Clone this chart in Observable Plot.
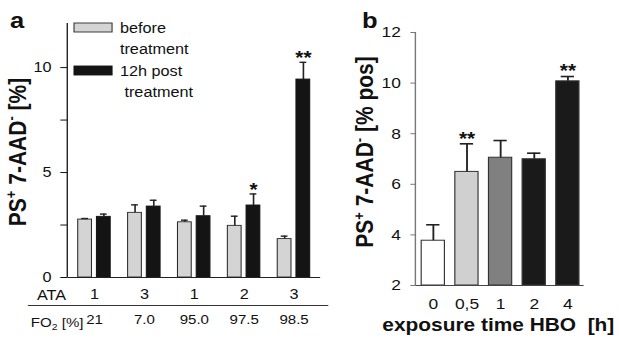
<!DOCTYPE html>
<html><head><meta charset="utf-8">
<script src="https://cdn.jsdelivr.net/npm/d3@7"></script>
<script src="https://cdn.jsdelivr.net/npm/@observablehq/plot@0.6"></script>
<style>
body{margin:0;background:#fff;}
#wrap{position:relative;width:619px;height:339px;overflow:hidden;background:#fff;}
#wrap svg{position:absolute;top:0;}
</style></head><body><div id="wrap"></div>
<script>
// ---- Panel a data ----
const ata = ["1", "3", "1", "2", "3"];
const fo2 = ["21", "7.0", "95.0", "97.5", "98.5"];
const before = [2.76, 3.08, 2.63, 2.46, 1.83];
const beforeErr = [0.05, 0.38, 0.10, 0.46, 0.14];
const after = [2.89, 3.38, 2.92, 3.43, 9.43];
const afterErr = [0.13, 0.30, 0.48, 0.55, 0.82];
const afterSig = ["", "", "", "*", "**"];
const yTicksA = [0, 2.5, 5, 7.5, 10];
const yMaxA = 12.1;
const legendA = [["before", "treatment"], ["12h post", " treatment"]];

// ---- Panel b data ----
const hours = ["0", "0,5", "1", "2", "4"];
const pos = [3.77, 6.49, 7.05, 6.99, 10.07];
const posErr = [0.63, 1.11, 0.68, 0.24, 0.19];
const posSig = ["", "**", "", "", "**"];
const hourColors = ["#ffffff", "#d0d0d0", "#808080", "#1a1a1a", "#1a1a1a"];
const yTicksB = [2, 4, 6, 8, 10, 12];
const yDomainB = [2, 12];

const S = 1.16; // horizontal stretch of the original figure
const FONT = '"Liberation Sans", Arial, Helvetica, sans-serif';
const wrap = document.getElementById("wrap");

function stretch(svg, left) {
  const w = +svg.getAttribute("width"), h = +svg.getAttribute("height");
  svg.setAttribute("viewBox", `0 0 ${w} ${h}`);
  svg.setAttribute("width", w * S);
  svg.setAttribute("preserveAspectRatio", "none");
  svg.style.width = (w * S) + "px";
  svg.style.height = h + "px";
  svg.style.maxWidth = "none";
  svg.style.left = left + "px";
  svg.style.background = "transparent";
}

// ================= Panel a =================
const WA = 290, HA = 339, mLA = 58, mRA = 14, mTA = 23, mBA = 62, padA = 0.35;
const bwA = (WA - mLA - mRA) / 5 * (1 - padA);
const barWA = 12.2, capA = 6.2;
const insA = bwA - barWA, dA = insA / 2, capInsA = (bwA - capA) / 2;

const rowsA = ata.map((a, i) => ({
  i, fo2: fo2[i],
  before: before[i], beforeTop: before[i] + beforeErr[i],
  after: after[i], afterTop: after[i] + afterErr[i],
  sig: afterSig[i]
}));

const svgA = Plot.plot({
  width: WA, height: HA,
  marginLeft: mLA, marginRight: mRA, marginTop: mTA, marginBottom: mBA,
  style: {fontSize: "14px", fontFamily: FONT, color: "#111", background: "transparent"},
  x: {type: "band", domain: d3.range(ata.length), paddingInner: padA, paddingOuter: padA / 2,
      tickSize: 0, tickPadding: 12, tickFormat: i => ata[i], label: null},
  y: {domain: [0, yMaxA], ticks: yTicksA, tickFormat: d => d % 5 === 0 ? d : "",
      tickSize: 6, tickPadding: 8, label: null},
  marks: [
    Plot.barY(rowsA, {x: "i", y: "before", fill: "#d4d4d4", stroke: "#2a2a2a", strokeWidth: 0.9, insetRight: insA}),
    Plot.barY(rowsA, {x: "i", y: "after", fill: "#141414", stroke: "#141414", strokeWidth: 0.9, insetLeft: insA}),
    Plot.ruleX(rowsA, {x: "i", y1: "before", y2: "beforeTop", dx: -dA, stroke: "#222", strokeWidth: 1.4}),
    Plot.tickY(rowsA, {x: "i", y: "beforeTop", dx: -dA, insetLeft: capInsA, insetRight: capInsA, stroke: "#222", strokeWidth: 1.4}),
    Plot.ruleX(rowsA, {x: "i", y1: "after", y2: "afterTop", dx: dA, stroke: "#222", strokeWidth: 1.4}),
    Plot.tickY(rowsA, {x: "i", y: "afterTop", dx: dA, insetLeft: capInsA, insetRight: capInsA, stroke: "#222", strokeWidth: 1.4}),
    Plot.text(rowsA, {x: "i", y: "afterTop", text: "sig", dx: dA, dy: -4, fontSize: 18, fontWeight: "bold", fill: "#111"}),
    Plot.ruleY([0], {stroke: "#222", strokeWidth: 1.2}),
    Plot.ruleY([0], {dy: 28, insetLeft: -34, insetRight: -7, stroke: "#333", strokeWidth: 1.2}),
    Plot.text(rowsA, {x: "i", text: "fo2", frameAnchor: "bottom", dy: 46, fontSize: 13, fill: "#111"})
  ]
});
wrap.appendChild(svgA);
{
  const ys = svgA.scale("y");
  const g = d3.select(svgA).append("g").attr("font-family", FONT).attr("fill", "#111").attr("text-anchor", "start");
  g.append("line").attr("x1", mLA).attr("x2", mLA).attr("y1", ys.apply(0)).attr("y2", ys.apply(yMaxA))
    .attr("stroke", "#222").attr("stroke-width", 1.2);
  g.append("text").attr("x", 8.6).attr("y", 28).attr("font-size", 22).attr("font-weight", "bold").text("a");
  const yl = g.append("text").attr("transform", "translate(22,152) rotate(-90)")
    .attr("text-anchor", "middle").attr("font-size", 21).attr("font-weight", "bold");
  yl.append("tspan").text("PS");
  yl.append("tspan").attr("dy", -8).attr("font-size", 13).text("+");
  yl.append("tspan").attr("dy", 8).text(" 7-AAD");
  yl.append("tspan").attr("dy", -8).attr("font-size", 13).text("-");
  yl.append("tspan").attr("dy", 8).text(" [%]");
  g.append("text").attr("x", 57).attr("y", 300).attr("text-anchor", "end").attr("font-size", 14).text("ATA");
  const fo = g.append("text").attr("x", 72).attr("y", 327).attr("text-anchor", "end").attr("font-size", 13);
  fo.append("tspan").text("FO");
  fo.append("tspan").attr("dy", 3).attr("font-size", 9).text("2");
  fo.append("tspan").attr("dy", -3).text(" [%]");
  // legend
  const lg = [{fill: "#d4d4d4", stroke: "#2a2a2a", y: 23}, {fill: "#141414", stroke: "#141414", y: 66}];
  lg.forEach((d, k) => {
    g.append("rect").attr("x", 63.8).attr("y", d.y).attr("width", 32.8).attr("height", 9)
      .attr("fill", d.fill).attr("stroke", d.stroke).attr("stroke-width", 0.9);
    g.append("text").attr("x", 103.4).attr("y", d.y + 10).attr("font-size", 14).text(legendA[k][0]);
    g.append("text").attr("x", 103.4).attr("y", d.y + 31).attr("font-size", 14)
      .style("white-space", "pre").text(legendA[k][1]);
  });
}
stretch(svgA, 0);

// ================= Panel b =================
const WB = 240, HB = 339, mLB = 65, mRB = 30, mTB = 32, mBB = 54, padB = 0.32;
const bwB = (WB - mLB - mRB) / 5 * (1 - padB);
const capB = 11.2, capInsB = (bwB - capB) / 2;

const rowsB = hours.map((h, i) => ({
  h, base: yDomainB[0], v: pos[i], top: pos[i] + posErr[i], sig: posSig[i], color: hourColors[i]
}));

const svgB = Plot.plot({
  width: WB, height: HB,
  marginLeft: mLB, marginRight: mRB, marginTop: mTB, marginBottom: mBB,
  style: {fontSize: "15px", fontFamily: FONT, color: "#111", background: "transparent"},
  color: {type: "identity"},
  x: {domain: hours, paddingInner: padB, paddingOuter: padB / 2, tickSize: 0, tickPadding: 13, label: null},
  y: {domain: yDomainB, ticks: yTicksB, tickSize: 4.3, tickPadding: 8.7, label: null},
  marks: [
    Plot.barY(rowsB, {x: "h", y1: "base", y2: "v", fill: "color", stroke: "#333", strokeWidth: 1}),
    Plot.ruleX(rowsB, {x: "h", y1: "v", y2: "top", stroke: "#222", strokeWidth: 1.6}),
    Plot.tickY(rowsB, {x: "h", y: "top", insetLeft: capInsB, insetRight: capInsB, stroke: "#222", strokeWidth: 1.6}),
    Plot.text(rowsB, {x: "h", y: "top", text: "sig", dy: -5, fontSize: 18, fontWeight: "bold", fill: "#111"}),
    Plot.ruleY([yDomainB[0]], {stroke: "#444", strokeWidth: 1.2})
  ]
});
wrap.appendChild(svgB);
{
  const ys = svgB.scale("y");
  d3.select(svgB).selectAll('g[aria-label="y-axis tick"]').attr("stroke", "#777");
  const g = d3.select(svgB).append("g").attr("font-family", FONT).attr("fill", "#111").attr("text-anchor", "start");
  g.append("line").attr("x1", mLB).attr("x2", mLB).attr("y1", ys.apply(yDomainB[0])).attr("y2", ys.apply(yDomainB[1]))
    .attr("stroke", "#777").attr("stroke-width", 1.2);
  g.append("text").attr("x", 19).attr("y", 28).attr("font-size", 22).attr("font-weight", "bold").text("b");
  const yl = g.append("text").attr("transform", "translate(28.4,152) rotate(-90)")
    .attr("text-anchor", "middle").attr("font-size", 21).attr("font-weight", "bold");
  yl.append("tspan").text("PS");
  yl.append("tspan").attr("dy", -8).attr("font-size", 13).text("+");
  yl.append("tspan").attr("dy", 8).text(" 7-AAD");
  yl.append("tspan").attr("dy", -8).attr("font-size", 13).text("-");
  yl.append("tspan").attr("dy", 8).text(" [% pos]");
  g.append("text").attr("x", 136.5).attr("y", 331).attr("text-anchor", "middle")
    .attr("font-size", 18).attr("font-weight", "bold").style("white-space", "pre")
    .text("exposure time HBO  [h]");
}
stretch(svgB, 340);
</script>
</body></html>
